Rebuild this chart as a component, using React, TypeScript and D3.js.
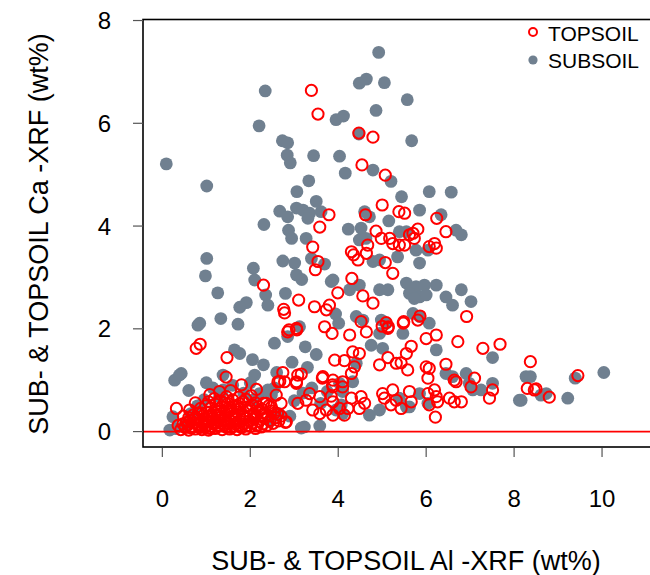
import React from "react";
import * as d3 from "d3";

const xTicks = [0, 2, 4, 6, 8, 10];
const yTicks = [0, 2, 4, 6, 8];
const xTitle = "SUB- & TOPSOIL Al -XRF (wt%)";
const yTitle = "SUB- & TOPSOIL Ca -XRF (wt%)";
const legendLabels = ["TOPSOIL", "SUBSOIL"];

const subsoil: [number, number][] = [
  [0.09,5.21],[1.01,4.78],[1.01,3.37],[0.98,3.03],[2.34,6.63],[2.20,5.95],[2.73,5.66],[2.85,5.62],[2.84,5.38],[2.91,5.23],
  [3.44,5.37],[3.95,6.07],[4.12,6.14],[4.03,5.36],[3.33,4.88],[3.06,4.67],[3.50,4.48],[2.67,4.29],[2.85,4.18],[3.05,4.35],
  [3.20,4.31],[3.35,4.25],[3.61,4.28],[3.31,4.15],[2.31,4.03],[2.87,3.92],[2.94,3.76],[3.27,3.76],[2.74,3.32],[3.01,3.28],
  [3.39,3.37],[3.69,3.26],[2.07,3.18],[2.10,2.95],[3.05,3.05],[3.17,2.96],[1.26,2.70],[2.35,2.66],[2.40,2.46],[2.80,2.69],
  [3.84,2.92],[1.91,2.51],[1.76,2.42],
  [4.92,7.38],[4.48,6.78],[4.64,6.86],[5.05,6.79],[5.57,6.46],[4.86,6.25],[4.47,5.79],[5.67,5.66],[4.16,5.03],[4.79,5.09],
  [5.20,4.87],[5.44,4.57],[6.07,4.67],[6.57,4.66],[6.34,4.22],[5.85,4.31],
  [4.60,4.28],[4.71,4.18],[5.15,4.10],[4.23,3.94],[4.52,3.96],[5.39,3.89],[5.55,3.89],[6.68,3.92],[6.80,3.83],[4.48,3.73],
  [4.63,3.76],[5.77,3.53],[6.04,3.53],[5.85,3.28],[5.35,3.40],[4.79,3.31],[4.94,3.34],[4.48,2.85],[3.88,2.95],[4.26,2.76],
  [5.55,2.89],[5.77,2.82],[5.96,2.85],[6.23,2.85],[6.45,2.62],[4.94,2.76],[5.13,2.76],[5.85,2.62],[6.0,2.66],[5.62,2.69],
  [5.73,2.59],[6.80,2.76],[7.02,2.53],[6.60,2.46],
  [1.33,2.20],[1.72,2.09],[0.85,2.11],[3.94,2.29],[4.01,2.11],[4.41,2.24],[4.56,2.17],[4.98,2.17],[5.09,2.11],[5.70,2.30],
  [5.85,2.24],[6.07,2.11],[3.12,2.04],[4.94,1.91],[5.47,1.91],
  [4.75,1.68],[5.01,1.62],[6.23,1.59],[7.51,1.44],[4.41,1.33],[4.33,0.97],[4.03,0.94],[6.45,1.13],[6.60,1.07],[6.91,1.13],
  [6.98,0.94],[7.06,0.81],[7.25,0.81],[7.51,0.94],[8.12,0.61],[8.27,1.07],[4.71,0.32],[4.94,0.42],[5.39,0.65],[5.55,0.48],
  [5.85,0.74],[5.62,0.48],[6.04,0.55],[3.95,0.42],[4.10,0.35],[4.10,0.78],[4.07,0.52],
  [8.37,1.07],[8.61,0.71],[8.73,0.74],[8.16,0.61],[9.22,0.65],[9.39,1.04],[10.04,1.15],
  [0.81,2.07],[2.55,1.72],[2.85,1.85],[1.64,1.59],[1.76,1.52],[0.28,1.00],[0.43,1.13],[0.39,1.10],[1.38,0.81],[1.30,0.68],
  [2.10,1.10],[2.40,0.81],[0.17,0.03],[0.24,0.29],[3.16,0.07],[3.58,0.11],[3.23,0.09],
  [2.21,0.74],[2.48,0.71],[2.06,0.61],[1.38,1.10],[1.30,0.78],
  [0.3,0.06],[0.5,0.12],[0.65,0.35],[0.8,0.5],[0.95,0.62],[1.15,0.85],[1.0,0.95],[1.6,0.9],[1.85,0.75],[2.0,0.95],
  [2.3,0.75],[2.55,0.85],[2.65,0.35],[2.45,0.2],[2.9,0.3],[3.0,0.6],[3.2,0.75],[3.4,0.85],[3.6,0.55],[3.75,0.78],
  [2.3,1.3],[2.6,1.15],[2.95,1.35],[3.3,1.25],[3.5,1.5],[3.25,1.65],[2.05,1.4],[0.6,0.8],
];

const topsoil: [number, number][] = [
  [3.39,6.64],[3.54,6.18],[4.47,5.81],[4.79,5.73],[4.54,5.19],[5.07,4.99],[3.79,4.22],[3.58,3.98],[3.42,3.59],[3.54,3.31],
  [3.48,3.15],[2.30,2.85],[3.10,2.56],[3.46,2.43],[3.80,2.46],[3.99,2.70],[2.76,2.38],
  [5.00,4.41],[5.38,4.28],[5.51,4.25],[6.24,4.15],[6.45,3.89],[4.62,4.22],[4.86,3.90],[4.98,3.76],[5.17,3.76],[5.24,3.66],
  [5.39,3.63],[5.51,3.63],[5.62,3.83],[5.73,3.76],[5.81,3.94],[5.70,3.86],[6.07,3.60],[6.19,3.66],[6.23,3.57],[4.30,3.50],
  [4.35,3.44],[4.45,3.34],[4.67,3.63],[4.64,3.47],[5.07,3.29],[5.24,3.08],[4.31,2.98],[4.56,2.64],[4.79,2.50],[2.78,2.31],
  [3.73,2.37],[4.52,2.14],[5.09,2.12],[5.14,2.04],[5.49,2.14],[5.86,2.25],[2.88,1.98],[3.05,2.01],[3.69,2.04],[6.92,2.24],
  [3.86,1.91],[4.26,1.88],[4.64,1.94],[5.0,2.05],[5.13,2.01],[5.48,2.11],[5.81,2.17],[6.0,1.81],[6.23,1.88],[6.72,1.75],
  [7.29,1.62],[7.68,1.70],[5.66,1.66],[5.55,1.52],[4.33,1.55],[4.48,1.52],[3.92,1.39],[4.14,1.38],[4.37,1.26],[4.30,1.13],
  [4.94,1.30],[5.13,1.44],[5.32,1.33],[5.43,1.34],[5.58,1.20],[6.0,1.26],[6.07,1.23],[6.04,1.04],[6.45,1.31],[6.68,0.97],
  [6.64,1.0],[7.02,0.87],[7.10,1.04],[7.44,0.65],[7.51,0.81],[8.30,0.84],[3.88,1.0],[4.10,0.97],[3.88,0.87],[3.88,0.58],
  [4.03,0.45],[4.14,0.32],[4.22,0.45],[4.30,0.65],[4.52,0.68],[4.60,0.55],[4.48,0.45],[5.01,0.74],[5.24,0.81],[5.32,0.61],
  [5.05,0.65],[5.20,0.52],[5.43,0.45],[5.62,0.78],[5.66,0.58],[6.04,0.74],[6.19,0.81],[6.23,0.68],[6.26,0.58],[6.53,0.65],
  [6.64,0.58],[6.80,0.58],[6.07,0.52],[6.21,0.28],
  [8.37,1.36],[8.46,0.81],[8.50,0.83],[8.80,0.67],[9.45,1.09],
  [0.77,1.62],[0.86,1.70],[1.47,1.44],[1.45,1.06],[1.80,0.91],[2.14,0.82],[0.32,0.45],[0.87,0.45],[2.85,1.94],[3.06,1.98],
  [2.74,1.15],[2.67,0.98],[3.05,0.97],[3.16,1.12],[2.80,0.18],[2.59,0.71],[2.70,0.55],[2.48,0.48],[3.64,1.04],
  [3.08,0.55],[3.27,0.61],[3.42,0.42],[3.58,0.35],[3.73,0.42],[3.88,0.32],[3.35,0.74],[3.58,0.68],[3.84,0.69],
  [2.78,0.97],[2.63,0.97],[3.08,1.10],[3.05,0.94],[3.65,1.07],[3.87,0.91],[4.10,0.87],[2.36,0.55],[2.82,0.19],
  [0.42,0.04],[0.52,0.08],[0.6,0.03],[0.68,0.1],[0.75,0.05],[0.83,0.12],[0.9,0.04],[0.98,0.09],[1.05,0.03],[1.12,0.1],
  [1.2,0.06],[1.28,0.12],[1.36,0.04],[1.45,0.09],[1.53,0.05],[1.62,0.11],[1.7,0.04],[1.8,0.08],[1.9,0.05],[2.0,0.1],
  [2.12,0.06],[2.25,0.09],
  [0.55,0.18],[0.64,0.22],[0.72,0.17],[0.8,0.24],[0.88,0.19],[0.96,0.26],[1.04,0.2],[1.13,0.25],[1.22,0.18],[1.3,0.27],
  [1.4,0.21],[1.5,0.26],[1.58,0.19],[1.68,0.24],[1.78,0.2],[1.88,0.27],[1.98,0.21],[2.08,0.25],[2.2,0.2],[2.32,0.26],
  [2.45,0.22],[2.58,0.27],
  [0.7,0.32],[0.82,0.36],[0.93,0.31],[1.02,0.38],[1.12,0.33],[1.23,0.39],[1.34,0.34],[1.46,0.4],[1.57,0.35],[1.7,0.38],
  [1.83,0.33],[1.95,0.4],[2.08,0.35],[2.2,0.41],[2.33,0.36],[2.47,0.4],[2.62,0.34],
  [0.98,0.5],[1.1,0.46],[1.22,0.53],[1.36,0.48],[1.5,0.55],[1.62,0.49],[1.76,0.54],[1.9,0.47],[2.04,0.52],[2.18,0.48],
  [2.3,0.55],
  [1.18,0.64],[1.32,0.6],[1.46,0.68],[1.6,0.62],[1.74,0.67],[1.9,0.63],[2.02,0.7],
  [0.36,0.12],[0.48,0.3],[0.62,0.42],[0.75,0.56],[1.08,0.72],[1.3,0.78],[1.55,0.8],
  [0.47,0.15],[0.58,0.13],[0.66,0.07],[0.79,0.15],[0.86,0.08],[0.94,0.16],[1.01,0.12],[1.09,0.06],[1.16,0.15],[1.25,0.1],
  [1.33,0.16],[1.41,0.13],[1.49,0.16],[1.57,0.08],[1.66,0.15],[1.74,0.12],[1.84,0.15],[1.93,0.12],[2.04,0.16],[2.16,0.13],
  [2.28,0.15],[2.38,0.12],[2.52,0.16],[2.65,0.21],
  [0.6,0.27],[0.76,0.28],[0.9,0.36],[1.07,0.29],[1.18,0.36],[1.27,0.31],[1.43,0.31],[1.54,0.42],[1.64,0.3],[1.77,0.44],
  [1.86,0.3],[2.0,0.3],[2.13,0.31],[2.27,0.32],[2.4,0.3],[2.55,0.36],[2.7,0.3],
  [1.05,0.58],[1.28,0.44],[1.42,0.56],[1.56,0.46],[1.7,0.5],[1.84,0.58],[1.98,0.46],[2.12,0.56],[2.26,0.44],[2.42,0.5],
];

const W = 650;
const H = 575;
const font = "'Liberation Sans', Arial, Helvetica, sans-serif";
const GRAY = "#708090";
const RED = "#ff0000";

export default function App() {
  const x = d3.scaleLinear().domain([-0.44, 11.5]).range([143, 668]);
  const y = d3.scaleLinear().domain([-0.3, 8.02]).range([447, 19.5]);
  const [x0, x1] = x.range();
  const [y0, y1] = y.range();

  return (
    <svg
      width={W}
      height={H}
      style={{ position: "absolute", left: 0, top: 0, background: "#ffffff" }}
      fontFamily={font}
    >
      <rect x={0} y={0} width={W} height={H} fill="#ffffff" />
      <g>
        {subsoil.map((d, i) => (
          <circle key={"s" + i} cx={x(d[0])} cy={y(d[1])} r={6.4} fill={GRAY} />
        ))}
      </g>
      <g>
        {topsoil.map((d, i) => (
          <circle
            key={"t" + i}
            cx={x(d[0])}
            cy={y(d[1])}
            r={5.6}
            fill="none"
            stroke={RED}
            strokeWidth={2}
          />
        ))}
      </g>
      <line x1={x0} x2={x1} y1={y(0)} y2={y(0)} stroke={RED} strokeWidth={1.6} />
      <rect
        x={x0}
        y={y1}
        width={x1 - x0}
        height={y0 - y1}
        fill="none"
        stroke="#000"
        strokeWidth={1.6}
      />
      {xTicks.map((t) => (
        <g key={"xt" + t}>
          <line x1={x(t)} x2={x(t)} y1={y0 + 1} y2={y0 + 10} stroke="#555" strokeWidth={1.2} />
          <text x={x(t)} y={507} fontSize={24} textAnchor="middle" fill="#000">
            {t}
          </text>
        </g>
      ))}
      {yTicks.map((t) => (
        <g key={"yt" + t}>
          <line x1={x0 - 10} x2={x0} y1={y(t)} y2={y(t)} stroke="#555" strokeWidth={1.2} />
          <text x={111} y={y(t) + 8.5} fontSize={24} textAnchor="end" fill="#000">
            {t}
          </text>
        </g>
      ))}
      <text x={406} y={570} fontSize={27} textAnchor="middle" fill="#000">
        {xTitle}
      </text>
      <text
        transform={`translate(48, 234) rotate(-90)`}
        fontSize={27}
        textAnchor="middle"
        fill="#000"
      >
        {yTitle}
      </text>
      <circle cx={533} cy={32} r={4} fill="none" stroke={RED} strokeWidth={2} />
      <circle cx={533} cy={60} r={4.6} fill={GRAY} />
      <text x={548} y={40.5} fontSize={21} fill="#000">
        {legendLabels[0]}
      </text>
      <text x={548} y={68} fontSize={21} fill="#000">
        {legendLabels[1]}
      </text>
    </svg>
  );
}
